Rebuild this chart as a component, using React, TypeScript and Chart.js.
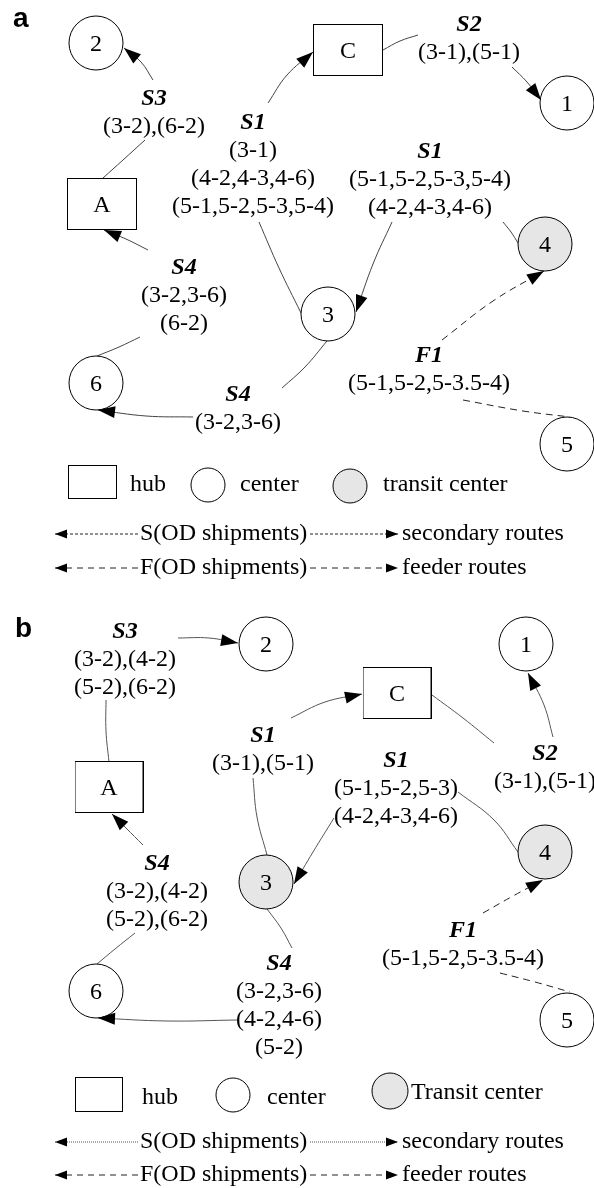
import React, { useEffect, useRef } from "react";
import { Chart, registerables } from "chart.js";
Chart.register(...registerables);

type P = [number, number];

const SERIF = '"Liberation Serif", "Times New Roman", Times, serif';
const SANS = '"Liberation Sans", Arial, sans-serif';

// ---------- panel a : nodes ----------
const centerIdsA = ["2", "1", "3", "6", "5"];
const centerXA = [96, 567, 328, 96, 567];
const centerYA = [43, 103, 314, 383, 444];
const transitIdsA = ["4"];
const transitXA = [545];
const transitYA = [244];
const hubIdsA = ["C", "A"];
const hubXA = [348, 102];
const hubYA = [50, 204];

// ---------- panel b : nodes ----------
const centerIdsB = ["2", "1", "6", "5"];
const centerXB = [266, 526, 96, 567];
const centerYB = [644, 644, 991, 1020];
const transitIdsB = ["3", "4"];
const transitXB = [266, 545];
const transitYB = [882, 852];
const hubIdsB = ["C", "A"];
const hubXB = [397, 109];
const hubYB = [693, 787];

// ---------- panel a : routes ----------
const sArrowA: P[][] = [
  [[153, 80], [141, 62], [124, 48]],
  [[268, 103], [287, 75], [313, 52]],
  [[512, 67], [527, 82], [541, 100]],
  [[392, 222], [373, 264], [356, 312]],
  [[148, 250], [126, 239], [104, 230]],
  [[193, 417], [146, 416], [98, 410]],
];
const sPlainA: P[][] = [
  [[103, 178], [123, 160], [145, 140]],
  [[301, 313], [279, 268], [259, 222]],
  [[383, 50], [400, 41], [418, 35]],
  [[518, 243], [511, 232], [503, 222]],
  [[97, 356], [119, 347], [140, 337]],
  [[327, 341], [305, 367], [282, 388]],
];
const fArrowA: P[][] = [[[442, 340], [493, 301], [544, 271]]];
const fPlainA: P[][] = [[[463, 400], [523, 411], [570, 417]]];

// ---------- panel b : routes ----------
const sArrowB: P[][] = [
  [[178, 638], [209, 638], [238, 643]],
  [[291, 718], [325, 702], [362, 694]],
  [[553, 737], [544, 705], [528, 673]],
  [[334, 818], [313, 852], [294, 884]],
  [[143, 845], [126, 828], [112, 814]],
  [[237, 1020], [167, 1021], [98, 1018]],
];
const sPlainB: P[][] = [
  [[109, 762], [106, 731], [106, 700]],
  [[267, 855], [257, 817], [253, 778]],
  [[432, 695], [463, 718], [494, 743]],
  [[518, 852], [494, 820], [458, 792]],
  [[97, 964], [115, 949], [135, 933]],
  [[267, 909], [281, 928], [292, 948]],
];
const fArrowB: P[][] = [[[483, 913], [513, 896], [543, 880]]];
const fPlainB: P[][] = [[[500, 973], [535, 982], [570, 992]]];

// ---------- route labels ----------
const labelHeadsA = ["S3", "S1", "S2", "S1", "S4", "S4", "F1"];
const labelXA = [154, 253, 469, 430, 184, 238, 429];
const labelYA = [97, 121, 23, 150, 266, 393, 354];
const labelLinesA = [
  ["(3-2),(6-2)"],
  ["(3-1)", "(4-2,4-3,4-6)", "(5-1,5-2,5-3,5-4)"],
  ["(3-1),(5-1)"],
  ["(5-1,5-2,5-3,5-4)", "(4-2,4-3,4-6)"],
  ["(3-2,3-6)", "(6-2)"],
  ["(3-2,3-6)"],
  ["(5-1,5-2,5-3.5-4)"],
];

const labelHeadsB = ["S3", "S1", "S1", "S2", "S4", "S4", "F1"];
const labelXB = [125, 263, 396, 545, 157, 279, 463];
const labelYB = [630, 734, 759, 752, 862, 962, 929];
const labelLinesB = [
  ["(3-2),(4-2)", "(5-2),(6-2)"],
  ["(3-1),(5-1)"],
  ["(5-1,5-2,5-3)", "(4-2,4-3,4-6)"],
  ["(3-1),(5-1)"],
  ["(3-2),(4-2)", "(5-2),(6-2)"],
  ["(3-2,3-6)", "(4-2,4-6)", "(5-2)"],
  ["(5-1,5-2,5-3.5-4)"],
];

// ---------- legends ----------
const legendShapeTextA = ["hub", "center", "transit center"];
const legendShapeTextXA = [130, 240, 383];
const legendShapeTextYA = [484, 484, 484];
const legendHubA: P = [92.5, 482];
const legendCenterA: P = [208, 485];
const legendTransitA: P = [350, 486];

const legendShapeTextB = ["hub", "center", "Transit center"];
const legendShapeTextXB = [142, 267, 411];
const legendShapeTextYB = [1097, 1097, 1092];
const legendHubB: P = [99, 1094.5];
const legendCenterB: P = [233, 1095];
const legendTransitB: P = [390, 1091];

const legendRouteText = ["S(OD shipments)", "F(OD shipments)"];
const legendRouteDesc = ["secondary routes", "feeder routes"];
const legendRouteYA = [534, 568];
const legendRouteYB = [1142, 1175];
const legendLeftLine = [55, 139];
const legendRightLine = [310, 398];
const legendTextX = 140;
const legendDescX = 402;

const panelTitles = ["a", "b"];
const panelTitleX = [13, 15];
const panelTitleY = [27, 637];

function makeBox(w: number, h: number) {
  const c = document.createElement("canvas");
  c.width = w;
  c.height = h;
  const g = c.getContext("2d")!;
  g.fillStyle = "#fff";
  g.fillRect(0, 0, w, h);
  g.strokeStyle = "#000";
  g.lineWidth = 1;
  g.strokeRect(0.5, 0.5, w - 1, h - 1);
  return c;
}

const pts = (xs: number[], ys: number[]) => xs.map((x, i) => ({ x, y: ys[i] }));
const toXY = (p: P[]) => p.map(([x, y]) => ({ x, y }));

function drawArrow(ctx: CanvasRenderingContext2D, from: any, to: any, len: number, half: number) {
  const a = Math.atan2(to.y - from.y, to.x - from.x);
  const bx = to.x - len * Math.cos(a);
  const by = to.y - len * Math.sin(a);
  ctx.beginPath();
  ctx.moveTo(to.x, to.y);
  ctx.lineTo(bx + half * Math.sin(a), by - half * Math.cos(a));
  ctx.lineTo(bx - half * Math.sin(a), by + half * Math.cos(a));
  ctx.closePath();
  ctx.fill();
}

const overlay = {
  id: "diagramOverlay",
  afterDatasetsDraw(chart: any) {
    const ctx: CanvasRenderingContext2D = chart.ctx;
    const sx = chart.scales.x;
    const sy = chart.scales.y;
    const px = (v: number) => sx.getPixelForValue(v);
    const py = (v: number) => sy.getPixelForValue(v);
    ctx.save();
    ctx.fillStyle = "#000";
    chart.data.datasets.forEach((ds: any, i: number) => {
      const d = chart.getDatasetMeta(i).data;
      if (!d || d.length < 2) return;
      if (ds.arrowEnd) drawArrow(ctx, d[d.length - 2], d[d.length - 1], ds.arrowLen, ds.arrowHalf);
      if (ds.arrowStart) drawArrow(ctx, d[1], d[0], ds.arrowLen, ds.arrowHalf);
    });

    // node ids
    ctx.textAlign = "center";
    ctx.textBaseline = "alphabetic";
    ctx.font = `24px ${SERIF}`;
    const nodeText = (ids: string[], xs: number[], ys: number[]) =>
      ids.forEach((t, i) => ctx.fillText(t, px(xs[i]), py(ys[i]) + 8));
    nodeText(centerIdsA, centerXA, centerYA);
    nodeText(transitIdsA, transitXA, transitYA);
    nodeText(hubIdsA, hubXA, hubYA);
    nodeText(centerIdsB, centerXB, centerYB);
    nodeText(transitIdsB, transitXB, transitYB);
    nodeText(hubIdsB, hubXB, hubYB);

    // route labels
    const routeLabels = (heads: string[], xs: number[], ys: number[], lines: string[][]) =>
      heads.forEach((h, i) => {
        ctx.font = `italic bold 24px ${SERIF}`;
        ctx.fillText(h, px(xs[i]), py(ys[i]) + 8);
        ctx.font = `24px ${SERIF}`;
        lines[i].forEach((l, k) => ctx.fillText(l, px(xs[i]), py(ys[i] + 30 + 28 * k) + 6));
      });
    routeLabels(labelHeadsA, labelXA, labelYA, labelLinesA);
    routeLabels(labelHeadsB, labelXB, labelYB, labelLinesB);

    // legends
    ctx.textAlign = "left";
    ctx.font = `24px ${SERIF}`;
    const legendTexts = (t: string[], xs: number[], ys: number[]) =>
      t.forEach((s, i) => ctx.fillText(s, px(xs[i]), py(ys[i]) + 7));
    legendTexts(legendShapeTextA, legendShapeTextXA, legendShapeTextYA);
    legendTexts(legendShapeTextB, legendShapeTextXB, legendShapeTextYB);
    [legendRouteYA, legendRouteYB].forEach((ys) =>
      ys.forEach((y, i) => {
        ctx.fillText(legendRouteText[i], px(legendTextX), py(y) + 6);
        ctx.fillText(legendRouteDesc[i], px(legendDescX), py(y) + 6);
      })
    );

    // panel titles
    ctx.font = `bold 28px ${SANS}`;
    panelTitles.forEach((t, i) => ctx.fillText(t, px(panelTitleX[i]), py(panelTitleY[i])));
    ctx.restore();
  },
};

export default function App() {
  const ref = useRef<HTMLCanvasElement | null>(null);

  useEffect(() => {
    if (!ref.current) return;
    const hubBig = makeBox(70, 52);
    const hubBigB = makeBox(69, 52);
    const legendBoxA = makeBox(49, 34);
    const legendBoxB = makeBox(48, 35);

    const edge = (p: P[], dashed: boolean, arrow: boolean, color: string) => ({
      type: "line",
      data: toXY(p),
      showLine: true,
      tension: 0.4,
      borderColor: color,
      borderWidth: 1,
      borderDash: dashed ? [7, 5] : [],
      pointRadius: 0,
      fill: false,
      clip: false,
      order: 2,
      arrowEnd: arrow,
      arrowLen: 17,
      arrowHalf: 6,
    });

    const node = (data: any[], radius: number, fill: string, style: any = "circle") => ({
      type: "scatter",
      data,
      pointStyle: style,
      pointRadius: radius,
      pointBackgroundColor: fill,
      pointBorderColor: "#000",
      pointBorderWidth: 1,
      showLine: false,
      clip: false,
      order: 0,
    });

    const legendLine = (x0: number, x1: number, y: number, dash: number[], color: string, start: boolean) => ({
      type: "line",
      data: [
        { x: x0, y },
        { x: x1, y },
      ],
      showLine: true,
      tension: 0,
      borderColor: color,
      borderWidth: 1,
      borderDash: dash,
      pointRadius: 0,
      fill: false,
      clip: false,
      order: 2,
      arrowStart: start,
      arrowEnd: !start,
      arrowLen: 12,
      arrowHalf: 4.5,
    });

    const datasets: any[] = [];
    sArrowA.forEach((r) => datasets.push(edge(r, false, true, "#444")));
    sPlainA.forEach((r) => datasets.push(edge(r, false, false, "#444")));
    fArrowA.forEach((r) => datasets.push(edge(r, true, true, "#222")));
    fPlainA.forEach((r) => datasets.push(edge(r, true, false, "#222")));
    sArrowB.forEach((r) => datasets.push(edge(r, false, true, "#555")));
    sPlainB.forEach((r) => datasets.push(edge(r, false, false, "#555")));
    fArrowB.forEach((r) => datasets.push(edge(r, true, true, "#222")));
    fPlainB.forEach((r) => datasets.push(edge(r, true, false, "#222")));

    datasets.push(node(pts(centerXA, centerYA), 27, "#fff"));
    datasets.push(node(pts(transitXA, transitYA), 27, "#e6e6e6"));
    datasets.push(node(pts(hubXA, hubYA), 10, "#fff", hubBig));
    datasets.push(node(pts(centerXB, centerYB), 27, "#fff"));
    datasets.push(node(pts(transitXB, transitYB), 27, "#e6e6e6"));
    datasets.push(node(pts(hubXB, hubYB), 10, "#fff", hubBigB));

    datasets.push(node([{ x: legendHubA[0], y: legendHubA[1] }], 10, "#fff", legendBoxA));
    datasets.push(node([{ x: legendCenterA[0], y: legendCenterA[1] }], 17, "#fff"));
    datasets.push(node([{ x: legendTransitA[0], y: legendTransitA[1] }], 17, "#e6e6e6"));
    datasets.push(node([{ x: legendHubB[0], y: legendHubB[1] }], 10, "#fff", legendBoxB));
    datasets.push(node([{ x: legendCenterB[0], y: legendCenterB[1] }], 17, "#fff"));
    datasets.push(node([{ x: legendTransitB[0], y: legendTransitB[1] }], 18, "#e6e6e6"));

    legendRouteYA.forEach((y, i) => {
      const dash = i === 0 ? [3, 2] : [6, 5];
      datasets.push(legendLine(legendLeftLine[0], legendLeftLine[1], y, dash, "#222", true));
      datasets.push(legendLine(legendRightLine[0], legendRightLine[1], y, dash, "#222", false));
    });
    legendRouteYB.forEach((y, i) => {
      const dash = i === 0 ? [1, 1] : [6, 5];
      const col = i === 0 ? "#555" : "#222";
      datasets.push(legendLine(legendLeftLine[0], legendLeftLine[1], y, dash, col, true));
      datasets.push(legendLine(legendRightLine[0], legendRightLine[1], y, dash, col, false));
    });

    const chart = new Chart(ref.current, {
      type: "scatter",
      data: { datasets },
      options: {
        animation: false,
        responsive: false,
        events: [],
        layout: { padding: 0, autoPadding: false },
        plugins: { legend: { display: false }, tooltip: { enabled: false } },
        scales: {
          x: { type: "linear", min: 0, max: 594, display: false },
          y: { type: "linear", min: 0, max: 1188, reverse: true, display: false },
        },
      },
      plugins: [overlay],
    } as any);
    return () => chart.destroy();
  }, []);

  return (
    <div style={{ position: "absolute", left: 0, top: 0, width: 594, height: 1188, background: "#fff" }}>
      <canvas ref={ref} width={594} height={1188} style={{ display: "block" }} />
    </div>
  );
}
